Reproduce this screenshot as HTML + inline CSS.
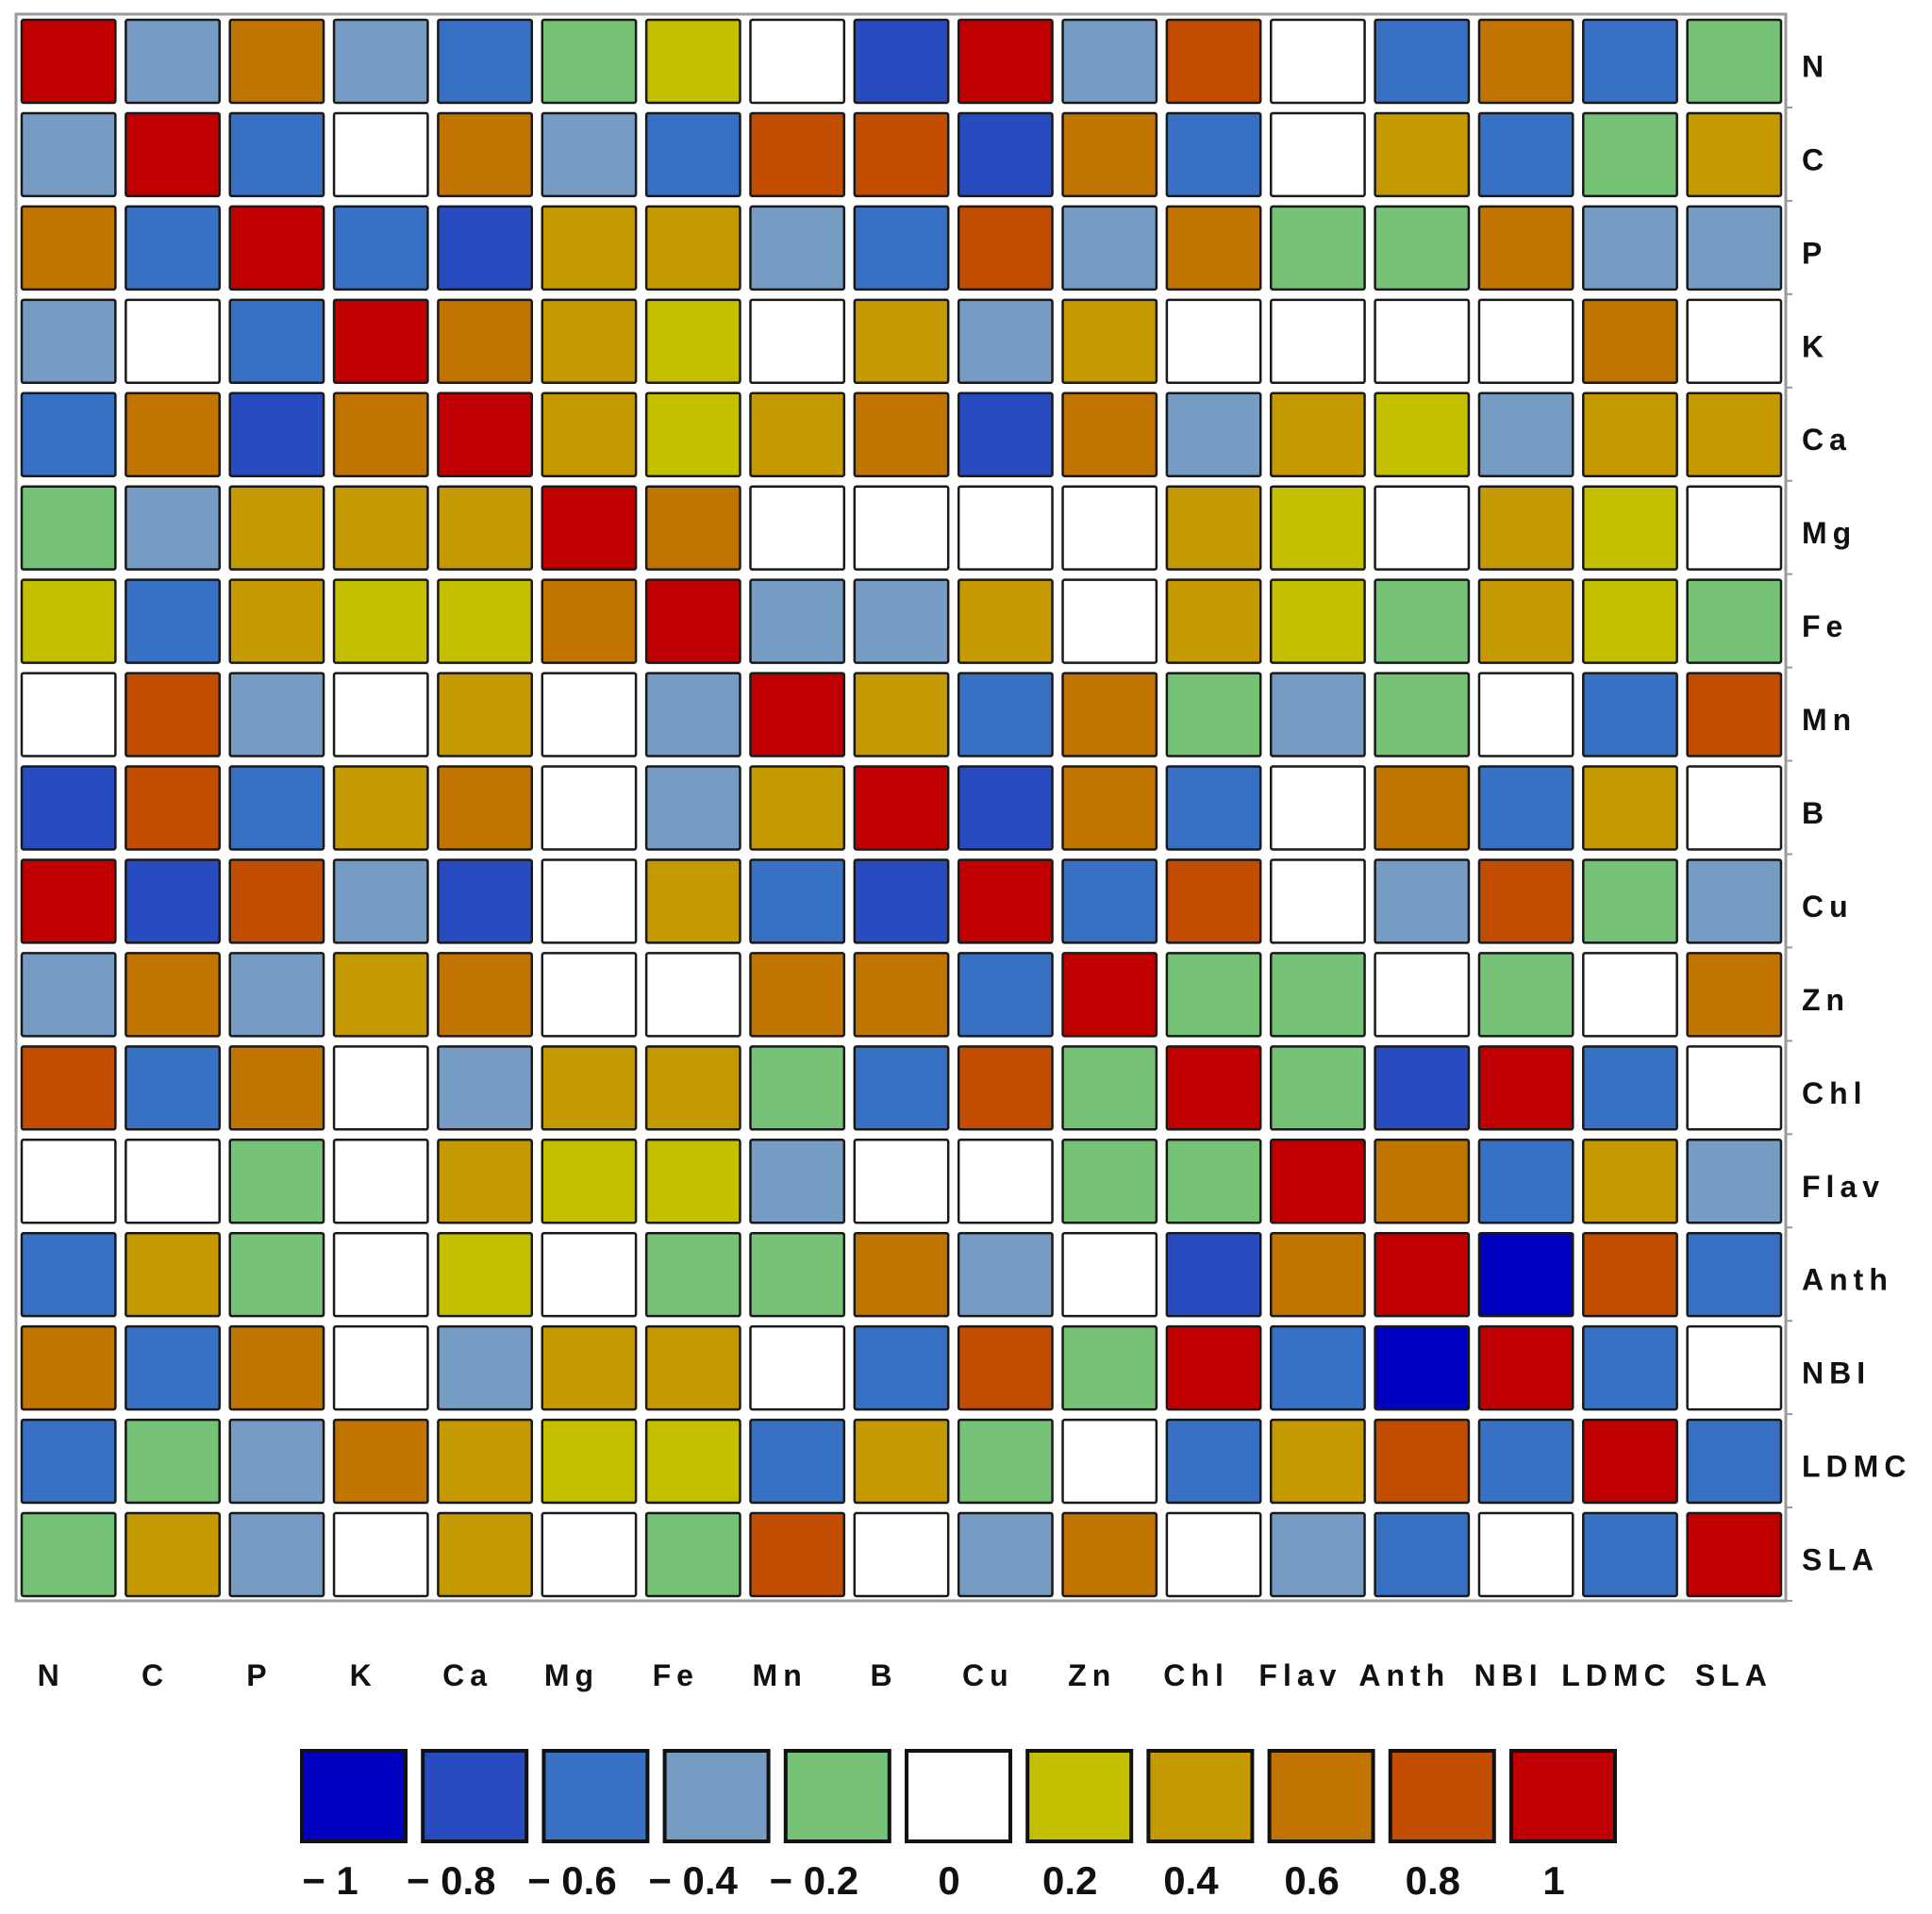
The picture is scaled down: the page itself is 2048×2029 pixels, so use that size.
<!DOCTYPE html>
<html><head><meta charset="utf-8"><style>
html,body{margin:0;padding:0;background:#fff;}
svg{display:block;}
text{font-family:"Liberation Sans",sans-serif;font-weight:bold;fill:#111;}
</style></head>
<body>
<svg id="chart" width="2048" height="2029" viewBox="0 0 2048 2029" xmlns="http://www.w3.org/2000/svg">
<rect x="17" y="15" width="1876" height="1682" fill="#fff" stroke="#999" stroke-width="3"/>
<g id="cells"></g>
<g id="ylabels"></g>
<g id="xlabels"></g>
<g id="legend"></g>
</svg>
<script>
const variables = ["N","C","P","K","Ca","Mg","Fe","Mn","B","Cu","Zn","Chl","Flav","Anth","NBI","LDMC","SLA"];
const legendLevels = [-1,-0.8,-0.6,-0.4,-0.2,0,0.2,0.4,0.6,0.8,1];
const legendLabels = ["\u2212 1","\u2212 0.8","\u2212 0.6","\u2212 0.4","\u2212 0.2","0","0.2","0.4","0.6","0.8","1"];
const levelColors = ["#0000c0","#284cc0","#3870c4","#769cc4","#76c276","#ffffff","#c4c000","#c49a00","#c27400","#c24c00","#c00000"];
const matrix = [
[1,-.4,.6,-.4,-.6,-.2,.2,0,-.8,1,-.4,.8,0,-.6,.6,-.6,-.2],
[-.4,1,-.6,0,.6,-.4,-.6,.8,.8,-.8,.6,-.6,0,.4,-.6,-.2,.4],
[.6,-.6,1,-.6,-.8,.4,.4,-.4,-.6,.8,-.4,.6,-.2,-.2,.6,-.4,-.4],
[-.4,0,-.6,1,.6,.4,.2,0,.4,-.4,.4,0,0,0,0,.6,0],
[-.6,.6,-.8,.6,1,.4,.2,.4,.6,-.8,.6,-.4,.4,.2,-.4,.4,.4],
[-.2,-.4,.4,.4,.4,1,.6,0,0,0,0,.4,.2,0,.4,.2,0],
[.2,-.6,.4,.2,.2,.6,1,-.4,-.4,.4,0,.4,.2,-.2,.4,.2,-.2],
[0,.8,-.4,0,.4,0,-.4,1,.4,-.6,.6,-.2,-.4,-.2,0,-.6,.8],
[-.8,.8,-.6,.4,.6,0,-.4,.4,1,-.8,.6,-.6,0,.6,-.6,.4,0],
[1,-.8,.8,-.4,-.8,0,.4,-.6,-.8,1,-.6,.8,0,-.4,.8,-.2,-.4],
[-.4,.6,-.4,.4,.6,0,0,.6,.6,-.6,1,-.2,-.2,0,-.2,0,.6],
[.8,-.6,.6,0,-.4,.4,.4,-.2,-.6,.8,-.2,1,-.2,-.8,1,-.6,0],
[0,0,-.2,0,.4,.2,.2,-.4,0,0,-.2,-.2,1,.6,-.6,.4,-.4],
[-.6,.4,-.2,0,.2,0,-.2,-.2,.6,-.4,0,-.8,.6,1,-1,.8,-.6],
[.6,-.6,.6,0,-.4,.4,.4,0,-.6,.8,-.2,1,-.6,-1,1,-.6,0],
[-.6,-.2,-.4,.6,.4,.2,.2,-.6,.4,-.2,0,-.6,.4,.8,-.6,1,-.6],
[-.2,.4,-.4,0,.4,0,-.2,.8,0,-.4,.6,0,-.4,-.6,0,-.6,1]
];
const NS="http://www.w3.org/2000/svg";
const gx0=17, gy0=15, gW=1876, gH=1682, n=variables.length;
const pw=gW/n, ph=gH/n;
function xPos(i){return gx0+i*pw;}
function yPos(j){return gy0+j*ph;}
function colorFor(v){let b=0,d=9;legendLevels.forEach((l,k)=>{const dd=Math.abs(l-v);if(dd<d){d=dd;b=k;}});return levelColors[b];}
const cells=document.getElementById('cells');
matrix.forEach((row,j)=>row.forEach((v,i)=>{
  const r=document.createElementNS(NS,'rect');
  r.setAttribute('x',xPos(i)+6);r.setAttribute('y',yPos(j)+6);
  r.setAttribute('width',pw-11);r.setAttribute('height',ph-11);
  r.setAttribute('rx',2);
  r.setAttribute('fill',colorFor(v));r.setAttribute('stroke','#1a1a1a');r.setAttribute('stroke-width','2.5');
  
  
  cells.appendChild(r);
}));
const yl=document.getElementById('ylabels');
variables.forEach((v,j)=>{
  const t=document.createElementNS(NS,'text');
  t.setAttribute('x',1910);t.setAttribute('y',yPos(j)+ph/2+17);
  t.setAttribute('font-size','32');t.setAttribute('letter-spacing','6');
  t.textContent=v;
  
  
  yl.appendChild(t);
  const tk=document.createElementNS(NS,'line');
  tk.setAttribute('x1',1893);tk.setAttribute('x2',1900);tk.setAttribute('y1',yPos(j+1));tk.setAttribute('y2',yPos(j+1));
  tk.setAttribute('stroke','#999');tk.setAttribute('stroke-width','2');
  
  
  yl.appendChild(tk);
});
const xl=document.getElementById('xlabels');
variables.forEach((v,i)=>{
  const t=document.createElementNS(NS,'text');
  const off = i<15 ? -18 : (i===15 ? -14 : 0);
  t.setAttribute('x',xPos(i)+pw/2+off);t.setAttribute('y',1787);
  t.setAttribute('font-size','32');t.setAttribute('letter-spacing','6');t.setAttribute('text-anchor','middle');
  t.textContent=v;
  
  
  xl.appendChild(t);
});
const lg=document.getElementById('legend');
legendLevels.forEach((l,k)=>{
  const bx=320+k*128.2;
  const r=document.createElementNS(NS,'rect');
  r.setAttribute('x',bx);r.setAttribute('y',1856);r.setAttribute('width',110);r.setAttribute('height',96);
  r.setAttribute('fill',levelColors[k]);r.setAttribute('stroke','#111');r.setAttribute('stroke-width','4');
  
  
  lg.appendChild(r);
  const t=document.createElementNS(NS,'text');
  t.setAttribute('x',bx+55-(l<0?25:10));t.setAttribute('y',2008);
  t.setAttribute('font-size','42');t.setAttribute('text-anchor','middle');
  t.textContent=legendLabels[k];
  
  
  lg.appendChild(t);
});
</script>
</body></html>
